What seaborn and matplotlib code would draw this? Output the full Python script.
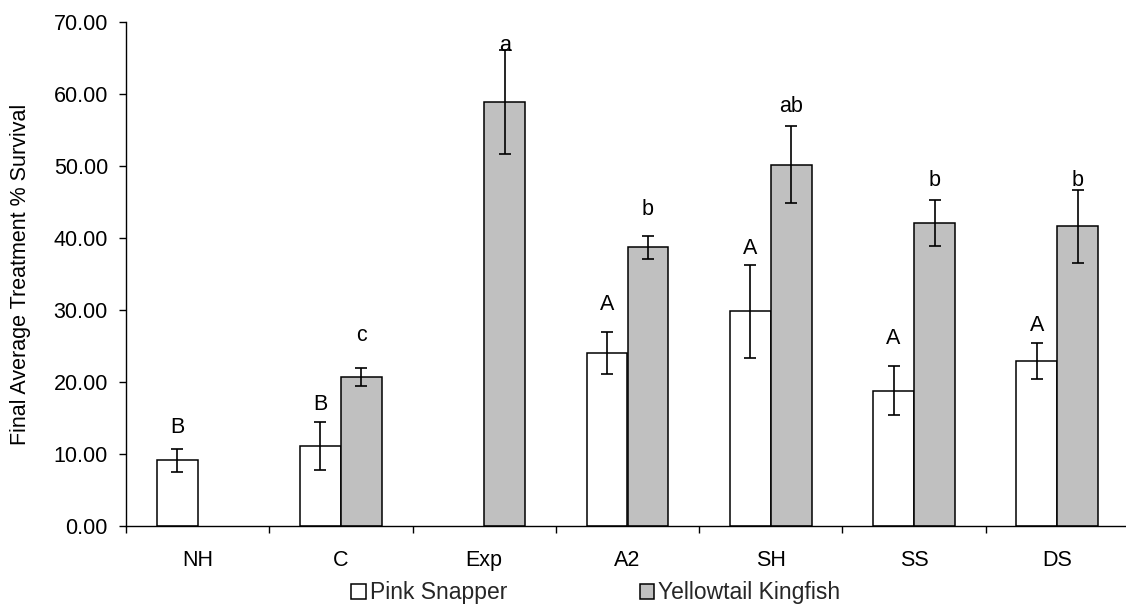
import numpy as np
import pandas as pd
import matplotlib
matplotlib.use("Agg")
import matplotlib.pyplot as plt
import seaborn as sns
from matplotlib.ticker import FixedLocator, FuncFormatter

# ---------------- data ----------------
categories = ["NH", "C", "Exp", "A2", "SH", "SS", "DS"]
series_names = ["Pink Snapper", "Yellowtail Kingfish"]
pink_mean = [9.1, 11.15, np.nan, 24.0, 29.8, 18.8, 22.9]
pink_err = [1.65, 3.35, np.nan, 2.9, 6.5, 3.4, 2.55]
yellow_mean = [np.nan, 20.7, 58.9, 38.7, 50.2, 42.1, 41.6]
yellow_err = [np.nan, 1.3, 7.2, 1.6, 5.3, 3.15, 5.1]
pink_letters = ["B", "B", "", "A", "A", "A", "A"]
yellow_letters = ["", "c", "a", "b", "ab", "b", "b"]
# vertical centres of the significance letters (data units)
pink_letter_y = [13.65, 16.9, np.nan, 30.7, 38.5, 26.1, 27.8]
yellow_letter_y = [np.nan, 26.5, 66.8, 44.0, 58.3, 48.0, 48.0]
y_ticks = [0, 10, 20, 30, 40, 50, 60, 70]
y_label = "Final Average Treatment % Survival"

# ---------------- style ----------------
sns.set_style("white")
plt.rcParams["font.family"] = ["Liberation Sans", "DejaVu Sans"]
FS = 15.5

rows = []
for cat, m in zip(categories, pink_mean):
    if not np.isnan(m):
        rows.append((cat, series_names[0], m))
for cat, m in zip(categories, yellow_mean):
    if not np.isnan(m):
        rows.append((cat, series_names[1], m))
df = pd.DataFrame(rows, columns=["cat", "species", "value"])

W, H = 1126, 609
fig = plt.figure(figsize=(W / 100, H / 100), dpi=100)
ax = fig.add_axes([126 / W, (H - 526) / H, 1003 / W, (526 - 22) / H])

BW = 0.572
sns.barplot(data=df, x="cat", y="value", hue="species", order=categories,
            hue_order=series_names,
            palette={series_names[0]: "white", series_names[1]: "#c0c0c0"},
            edgecolor="black", linewidth=1.1, width=BW, gap=0,
            errorbar=None, ax=ax, legend=True)

xs = np.arange(len(categories))
off = BW / 4
ax.errorbar(xs - off, pink_mean, yerr=pink_err, fmt="none", ecolor="black",
            elinewidth=1.2, capsize=4.5, capthick=1.2, zorder=5)
ax.errorbar(xs + off, yellow_mean, yerr=yellow_err, fmt="none", ecolor="black",
            elinewidth=1.2, capsize=4.5, capthick=1.2, zorder=5)

for i in range(len(categories)):
    if pink_letters[i]:
        ax.text(xs[i] - off, pink_letter_y[i], pink_letters[i], ha="center",
                va="center", fontsize=FS, color="black", zorder=6)
    if yellow_letters[i]:
        ax.text(xs[i] + off, yellow_letter_y[i], yellow_letters[i], ha="center",
                va="center", fontsize=FS, color="black", zorder=6)

ax.set_xlim(-0.5, len(categories) - 0.5)
ax.set_ylim(0, 70)
ax.yaxis.set_major_locator(FixedLocator(y_ticks))
ax.yaxis.set_major_formatter(FuncFormatter(lambda v, p: f"{v:.2f}"))
ax.set_xticks(xs)
ax.set_xticklabels(categories)
ax.set_xticks(np.arange(-0.5, len(categories), 1.0), minor=True)
ax.tick_params(axis="x", which="major", length=0, pad=17, labelsize=FS,
               colors="black")
ax.tick_params(axis="x", which="minor", length=5, width=1, direction="out",
               color="black", bottom=True)
ax.tick_params(axis="y", which="major", length=5, width=1, direction="out",
               pad=8, labelsize=FS, colors="black", left=True)
ax.set_xlabel("")
ax.set_ylabel(y_label, fontsize=FS, color="black")
ax.yaxis.set_label_coords(-0.0947, 0.5)

for s in ["top", "right"]:
    ax.spines[s].set_visible(False)
for s in ["left", "bottom"]:
    ax.spines[s].set_color("black")
    ax.spines[s].set_linewidth(1.0)

handles, labels = ax.get_legend_handles_labels()
ax.get_legend().remove()
LFS = 16.5
fig.legend(handles, labels, loc="center", bbox_to_anchor=(596 / W, (H - 593) / H),
           ncol=2, frameon=False, fontsize=LFS, handlelength=0.62,
           handleheight=0.62, handletextpad=0.18, columnspacing=5.8,
           borderpad=0, borderaxespad=0)

fig.savefig("out.png", dpi=100)
